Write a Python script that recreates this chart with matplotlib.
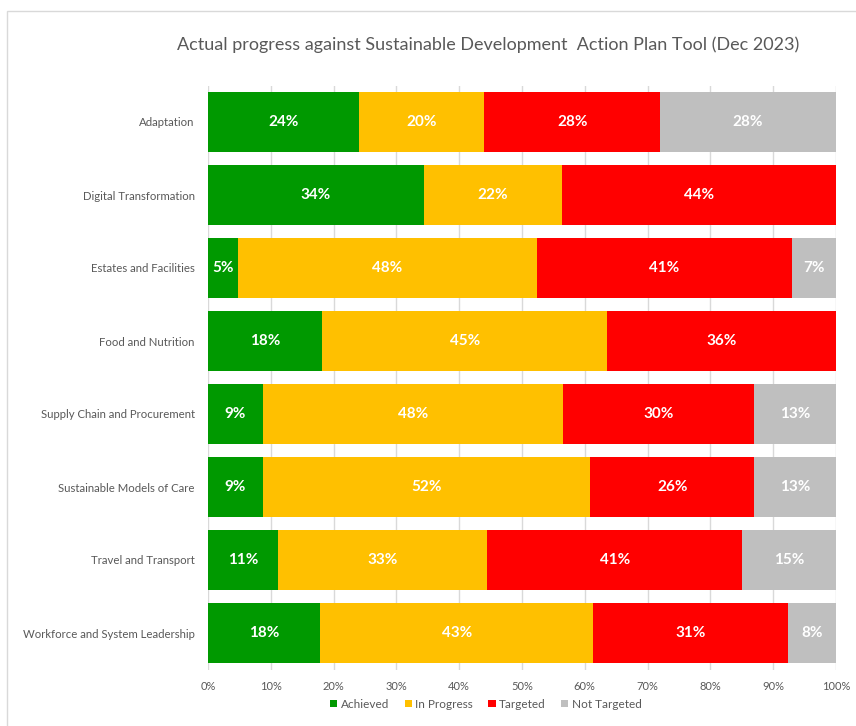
import matplotlib
matplotlib.use("Agg")
import matplotlib.pyplot as plt
from matplotlib.patches import Rectangle

categories = ["Adaptation", "Digital Transformation", "Estates and Facilities",
              "Food and Nutrition", "Supply Chain and Procurement",
              "Sustainable Models of Care", "Travel and Transport",
              "Workforce and System Leadership"]
achieved = [24.0, 34.4, 4.8, 18.2, 8.7, 8.7, 11.1, 17.9]
in_progress = [20.0, 21.9, 47.6, 45.4, 47.8, 52.2, 33.3, 43.4]
targeted = [28.0, 43.7, 40.6, 36.4, 30.4, 26.1, 40.7, 31.0]
not_targeted = [28.0, 0.0, 7.0, 0.0, 13.1, 13.0, 14.9, 7.7]
series_names = ["Achieved", "In Progress", "Targeted", "Not Targeted"]
colors = ["#009900", "#FFC000", "#FF0000", "#BFBFBF"]
xticks = [0, 10, 20, 30, 40, 50, 60, 70, 80, 90, 100]
title = "Actual progress against Sustainable Development  Action Plan Tool (Dec 2023)"

plt.rcParams['font.family'] = ['Lato', 'DejaVu Sans']
fig = plt.figure(figsize=(8.56, 7.26), dpi=100)
ax = fig.add_axes([208/856, 1 - 669.5/726, 628/856, 584/726])

# frame around chart
fig.patches.append(Rectangle((7/856, -0.01), 1.0, 1 - 11/726 + 0.01, transform=fig.transFigure,
                             fill=False, edgecolor="#D9D9D9", linewidth=1.0))

ypos = list(range(len(categories)))
left = [0.0] * len(categories)
for name, vals, col in zip(series_names, [achieved, in_progress, targeted, not_targeted], colors):
    bars = ax.barh(ypos, vals, left=left, height=0.82, color=col, label=name, zorder=3)
    for b, v, l in zip(bars, vals, left):
        if v > 0:
            ax.text(l + v / 2, b.get_y() + b.get_height() / 2, f"{round(v)}%",
                    ha="center", va="center", color="white", fontsize=11, fontweight="bold", zorder=4)
    left = [a + b for a, b in zip(left, vals)]

ax.set_xlim(0, 100)
ax.set_ylim(len(categories) - 0.5, -0.5)
ax.set_yticks(ypos)
ax.set_yticklabels(categories, fontsize=8.2, color="#595959")
ax.set_xticks(xticks)
ax.set_xticklabels([f"{t}%" for t in xticks], fontsize=8, color="#595959")
ax.tick_params(axis="x", length=0, pad=8)
ax.tick_params(axis="y", length=0, pad=9.5)
ax.grid(axis="x", color="#D9D9D9", linewidth=1, zorder=0)
for s in ax.spines.values():
    s.set_visible(False)

fig.text(488/856, 1 - 45/726, title, ha="center", va="center", fontsize=13, color="#595959")

leg = fig.legend(*ax.get_legend_handles_labels(), loc="center", bbox_to_anchor=(486/856, 1 - 704/726),
                 ncol=4, frameon=False, fontsize=8.5, handlelength=0.6, handleheight=0.6,
                 handletextpad=0.3, columnspacing=1.3, borderpad=0)
for t in leg.get_texts():
    t.set_color("#595959")

fig.savefig("out.png", dpi=100, facecolor="white")
